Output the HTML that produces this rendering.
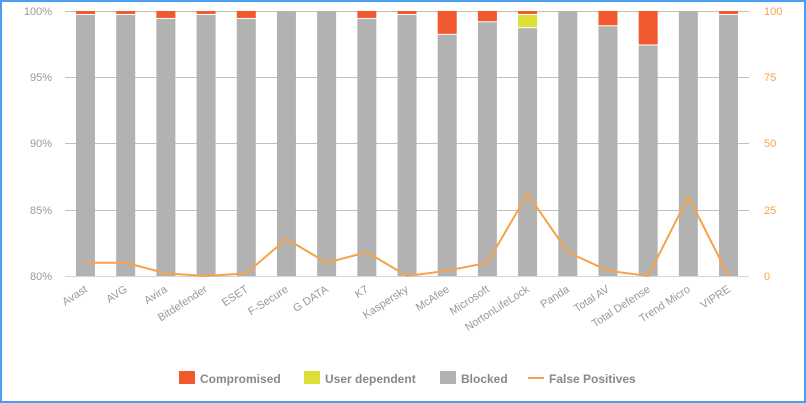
<!DOCTYPE html>
<html><head><meta charset="utf-8"><style>
html,body{margin:0;padding:0;background:#fff;}
svg{display:block;font-family:"Liberation Sans",sans-serif;}
</style></head><body>
<svg id="s" width="806" height="403" viewBox="0 0 806 403" xmlns="http://www.w3.org/2000/svg">
<rect x="1" y="1" width="804" height="401" fill="#fff" stroke="#4a9ff0" stroke-width="2"/>
<g id="grid" stroke="#c0c0c0" stroke-width="1">
<line x1="65" y1="11.5" x2="749" y2="11.5"/>
<line x1="65" y1="77.5" x2="749" y2="77.5"/>
<line x1="65" y1="143.5" x2="749" y2="143.5"/>
<line x1="65" y1="210.5" x2="749" y2="210.5"/>
</g>
<g id="bars"></g>
<line x1="65" y1="276.5" x2="749" y2="276.5" stroke="#ccd6eb"/>
<polyline id="fp" fill="none" stroke="#f7a24b" stroke-width="2" stroke-linejoin="round"/>
<g font-size="11" fill="#999" text-anchor="end">
<text x="52" y="15">100%</text><text x="52" y="81">95%</text><text x="52" y="147">90%</text><text x="52" y="214">85%</text><text x="52" y="280">80%</text>
</g>
<g font-size="11" fill="#f7a24b" text-anchor="start">
<text x="764" y="15">100</text><text x="764" y="81">75</text><text x="764" y="147">50</text><text x="764" y="214">25</text><text x="764" y="280">0</text>
</g>
<g font-size="11" fill="#999" text-anchor="end">
<text transform="translate(88,291) rotate(-33)">Avast</text>
<text transform="translate(128,291) rotate(-33)">AVG</text>
<text transform="translate(168,291) rotate(-33)">Avira</text>
<text transform="translate(208,291) rotate(-33)">Bitdefender</text>
<text transform="translate(249,291) rotate(-33)">ESET</text>
<text transform="translate(289,291) rotate(-33)">F-Secure</text>
<text transform="translate(329,291) rotate(-33)">G DATA</text>
<text transform="translate(369,291) rotate(-33)">K7</text>
<text transform="translate(409,291) rotate(-33)">Kaspersky</text>
<text transform="translate(450,291) rotate(-33)">McAfee</text>
<text transform="translate(490,291) rotate(-33)">Microsoft</text>
<text transform="translate(530,291) rotate(-33)">NortonLifeLock</text>
<text transform="translate(570,291) rotate(-33)">Panda</text>
<text transform="translate(610,291) rotate(-33)">Total AV</text>
<text transform="translate(651,291) rotate(-33)">Total Defense</text>
<text transform="translate(691,291) rotate(-33)">Trend Micro</text>
<text transform="translate(731,291) rotate(-33)">VIPRE</text>
</g>
<g font-size="12" font-weight="bold" fill="#888">
<rect x="179" y="371" width="16" height="13" fill="#f05a2e"/><text x="200" y="383">Compromised</text>
<rect x="304" y="371" width="16" height="13" fill="#dbdf38"/><text x="325" y="383">User dependent</text>
<rect x="440" y="371" width="16" height="13" fill="#b2b2b2"/><text x="461" y="383">Blocked</text>
<line x1="528" y1="378" x2="544" y2="378" stroke="#f7a24b" stroke-width="2"/><text x="549" y="383">False Positives</text>
</g>
</svg>
<script>
var comp=[0.3,0.3,0.6,0.3,0.6,0,0,0.6,0.3,1.8,0.85,0.3,0,1.15,2.6,0,0.3];
var ud=[0,0,0,0,0,0,0,0,0,0,0,1.0,0,0,0,0,0];
var fp=[5,5,1,0,1,14,5,9,0,2,5,31,9,2,0,30,0];
var g=document.getElementById('bars'),ns='http://www.w3.org/2000/svg',pts=[];
function Y(p){return 11+(100-p)*13.25;}
function r(x,y,w,h,c){var e=document.createElementNS(ns,'rect');e.setAttribute('x',x);e.setAttribute('y',y);e.setAttribute('width',w);e.setAttribute('height',Math.max(0,h));e.setAttribute('fill',c);g.appendChild(e);}
for(var i=0;i<17;i++){var cx=85.5+40.19*i,x=cx-9.5;
var t=100;
if(comp[i]>0){r(x,Y(t),19,comp[i]*13.25-1,'#f05a2e');t-=comp[i];}
if(ud[i]>0){r(x,Y(t),19,ud[i]*13.25-1,'#dbdf38');t-=ud[i];}
r(x,Y(t),19,276-Y(t),'#b2b2b2');
pts.push(cx+','+(276-fp[i]*2.65));}
document.getElementById('fp').setAttribute('points',pts.join(' '));
</script>
</body></html>
